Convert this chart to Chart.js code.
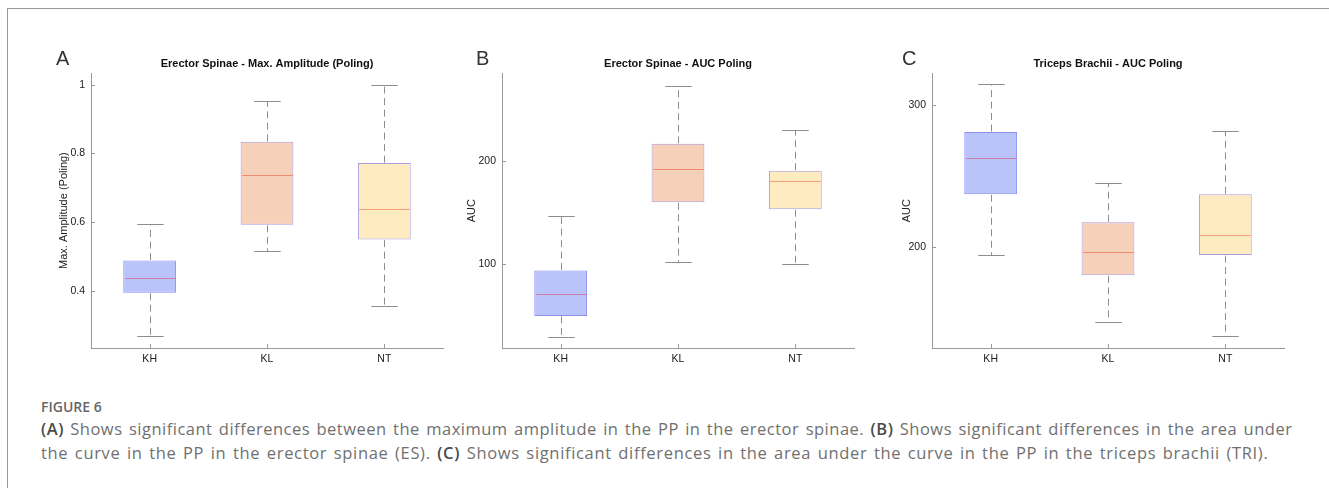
<!DOCTYPE html>
<html>
<head>
<meta charset="utf-8">
<script src="https://cdn.jsdelivr.net/npm/chart.js@4.4.1/dist/chart.umd.min.js"></script>
<style>
  body { margin: 0; background: #fff; }
  #page { position: relative; width: 1329px; height: 488px; overflow: hidden; }
  #frame { position: absolute; left: 7px; top: 8px; width: 1400px; height: 600px; border: 1px solid #9a9a9a; }
  canvas { position: absolute; top: 40px; }
  .letter { position: absolute; top: 47px; font: 20px "Liberation Sans", Arial, sans-serif; color: #333; }
  #caption { position: absolute; left: 41px; top: 397px; font-family: "Open Sans", sans-serif; color: #707070; white-space: nowrap; }
  #caption .fig { font-size: 14px; font-weight: 600; line-height: 20px; color: #666; }
  #caption .txt { font-size: 16.5px; line-height: 24px; letter-spacing: 0.5px; word-spacing: 1.6px; }
  #caption .l2 { letter-spacing: 0.67px; }
  #caption b { font-weight: 600; color: #4a4a4a; }
</style>
</head>
<body>
<div id="page">
  <div id="frame"></div>
  <canvas id="chartA" width="410" height="330" style="left:43px"></canvas>
  <canvas id="chartB" width="412" height="330" style="left:452px"></canvas>
  <canvas id="chartC" width="407" height="330" style="left:887px"></canvas>
  <div class="letter" style="left:56px">A</div>
  <div class="letter" style="left:476px">B</div>
  <div class="letter" style="left:902px">C</div>
  <div id="caption">
    <div class="fig">FIGURE 6</div>
    <div class="txt"><b>(A)</b> Shows significant differences between the maximum amplitude in the PP in the erector spinae. <b>(B)</b> Shows significant differences in the area under<br><span class="l2">the curve in the PP in the erector spinae (ES). <b>(C)</b> Shows significant differences in the area under the curve in the PP in the triceps brachii (TRI).</span></div>
  </div>
</div>
<script>
// groups on the x axis
var groups = ['KH', 'KL', 'NT'];

// A - erector spinae, max amplitude
var ampLow  = [0.269, 0.516, 0.356];
var ampQ1   = [0.394, 0.592, 0.549];
var ampMed  = [0.436, 0.737, 0.638];
var ampQ3   = [0.488, 0.834, 0.772];
var ampHigh = [0.595, 0.953, 1.0];
var ampTicks = [0.4, 0.6, 0.8, 1];

// B - erector spinae, AUC
var esLow  = [28.9, 101.7, 100];
var esQ1   = [49.3, 160.2, 153.3];
var esMed  = [71.1, 192.5, 180.8];
var esQ3   = [93.5, 217.2, 190.9];
var esHigh = [146.4, 273.7, 231];
var esTicks = [100, 200];

// C - triceps brachii, AUC
var triLow  = [194.4, 147.6, 137.8];
var triQ1   = [237.1, 180.2, 194.4];
var triMed  = [262.4, 196.3, 208.4];
var triQ3   = [280.8, 217.5, 237.1];
var triHigh = [314.2, 245.3, 281.3];
var triTicks = [200, 300];

var boxFill   = ['#b9c4fb', '#f6d0b9', '#feebc0'];
var boxEdge   = ['#8c8ef0', '#ad98de', '#ab9ce2'];
var medColors = ['#cf7aac', '#ee8b74', '#f1a07c'];

var font = '"Liberation Sans", Arial, sans-serif';

// whiskers, caps, medians and inward tick marks
function boxExtras(low, q1, med, q3, high) {
  return {
    id: 'boxExtras',
    afterDatasetsDraw: function (chart) {
      var ctx = chart.ctx, area = chart.chartArea;
      var x = chart.scales.x, y = chart.scales.y;
      var meta = chart.getDatasetMeta(0);
      function seg(x1, y1, x2, y2) {
        ctx.beginPath(); ctx.moveTo(x1, y1); ctx.lineTo(x2, y2); ctx.stroke();
      }
      ctx.save();
      ctx.lineWidth = 1;
      for (var i = 0; i < low.length; i++) {
        var px = Math.round(x.getPixelForValue(i)) + 0.5;
        var w = meta.data[i].width;
        var yLo = Math.round(y.getPixelForValue(low[i])) + 0.5;
        var yHi = Math.round(y.getPixelForValue(high[i])) + 0.5;
        ctx.strokeStyle = '#8d8d8d';
        ctx.setLineDash([7, 4.5]);
        seg(px, y.getPixelForValue(q3[i]) - 0.5, px, yHi);
        ctx.setLineDash([7, 4.5]);
        seg(px, y.getPixelForValue(q1[i]) + 0.5, px, yLo);
        ctx.setLineDash([]);
        seg(px - w / 4, yHi, px + w / 4, yHi);
        seg(px - w / 4, yLo, px + w / 4, yLo);
        var ym = Math.round(y.getPixelForValue(med[i])) + 0.5;
        ctx.strokeStyle = medColors[i];
        seg(px - w / 2 + 1, ym, px + w / 2 - 1, ym);
        // x tick mark
        ctx.strokeStyle = '#9a9a9a';
        seg(px, area.bottom, px, area.bottom - 4);
      }
      ctx.strokeStyle = '#9a9a9a';
      y.ticks.forEach(function (t) {
        var py = Math.round(y.getPixelForValue(t.value)) + 0.5;
        seg(area.left, py, area.left + 4, py);
      });
      ctx.restore();
    }
  };
}

function makePanel(id, title, yTitle, low, q1, med, q3, high, ticks, yMin, yMax, padLeft, yWidth) {
  var ranges = q1.map(function (v, i) { return [v, q3[i]]; });
  new Chart(document.getElementById(id), {
    type: 'bar',
    data: {
      labels: groups,
      datasets: [{
        data: ranges,
        backgroundColor: boxFill,
        borderColor: boxEdge,
        borderWidth: 1,
        borderSkipped: false,
        barPercentage: 0.45,
        categoryPercentage: 1
      }]
    },
    options: {
      responsive: false,
      animation: false,
      layout: { padding: { left: padLeft, right: 10, top: 17, bottom: 0 } },
      plugins: {
        legend: { display: false },
        tooltip: { enabled: false },
        title: {
          display: true,
          text: title,
          fullSize: false,
          color: '#111',
          font: { family: font, size: 11, weight: 'bold' },
          padding: { top: 0, bottom: 3 }
        }
      },
      scales: {
        x: {
          grid: { display: false, drawTicks: false },
          border: { display: true, color: '#9a9a9a' },
          ticks: { color: '#222', font: { family: font, size: 10.5 }, padding: 5 },
          afterFit: function (s) { s.height = 22; }
        },
        y: {
          min: yMin,
          max: yMax,
          grid: { display: false, drawTicks: false },
          border: { display: true, color: '#9a9a9a' },
          ticks: {
            color: '#222',
            font: { family: font, size: 10.5 },
            padding: 6,
            callback: function (v) { return String(v); }
          },
          afterBuildTicks: function (s) { s.ticks = ticks.map(function (v) { return { value: v }; }); },
          title: {
            display: true,
            text: yTitle,
            color: '#222',
            font: { family: font, size: 11 },
            padding: 0
          },
          afterFit: function (s) { s.width = yWidth; }
        }
      }
    },
    plugins: [boxExtras(low, q1, med, q3, high)]
  });
}

makePanel('chartA', 'Erector Spinae - Max. Amplitude (Poling)', 'Max. Amplitude (Poling)',
  ampLow, ampQ1, ampMed, ampQ3, ampHigh, ampTicks, 0.233, 1.034, 14, 34);
makePanel('chartB', 'Erector Spinae - AUC Poling', 'AUC',
  esLow, esQ1, esMed, esQ3, esHigh, esTicks, 18, 286, 13, 37);
makePanel('chartC', 'Triceps Brachii - AUC Poling', 'AUC',
  triLow, triQ1, triMed, triQ3, triHigh, triTicks, 129.2, 322.1, 13, 32);
</script>
</body>
</html>
